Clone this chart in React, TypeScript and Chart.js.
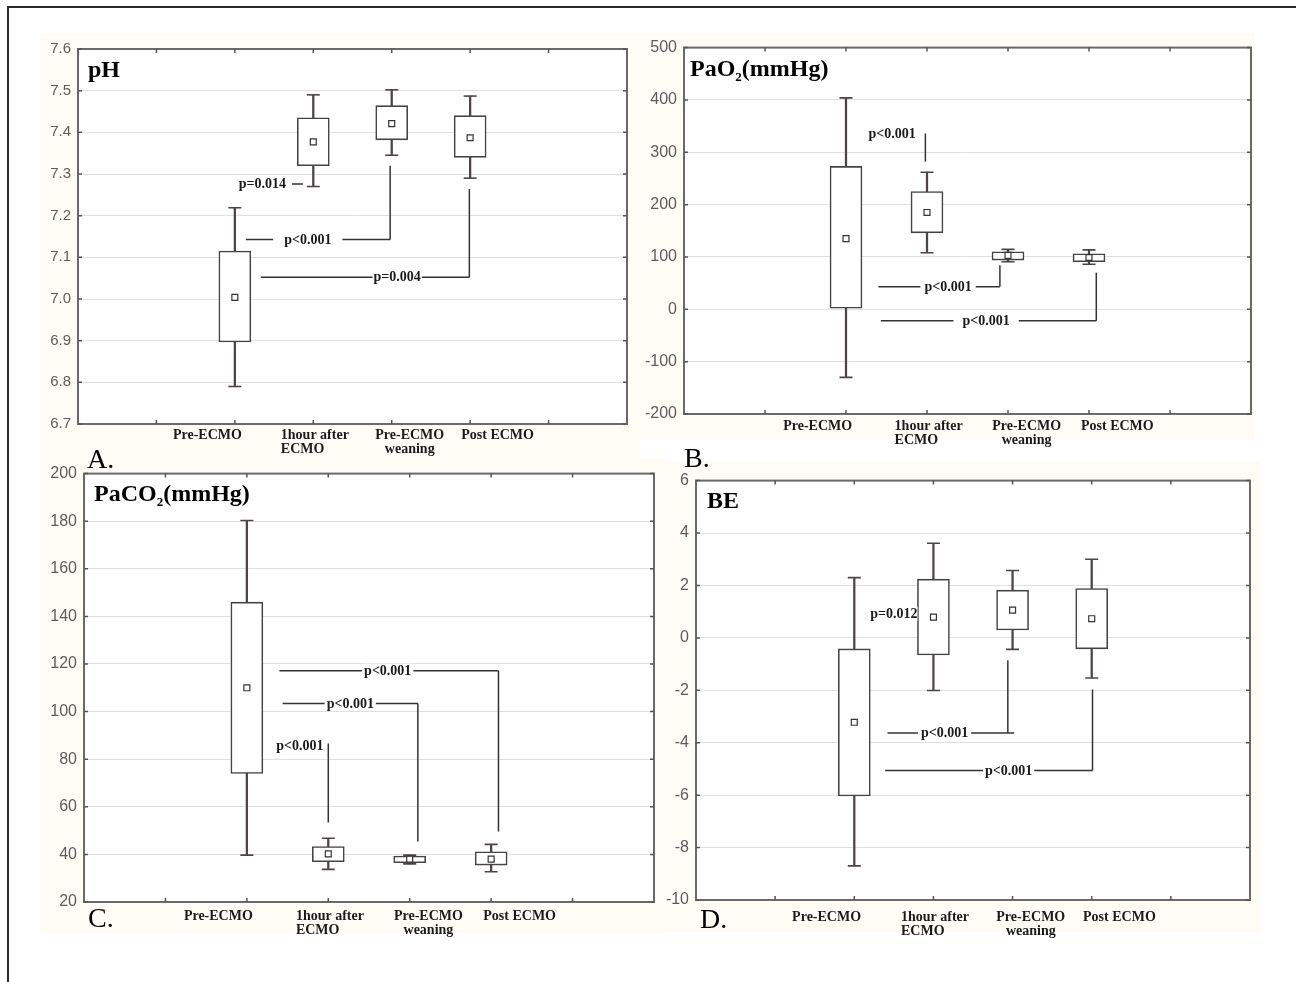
import React, { useEffect, useRef } from 'react';
import { Chart, registerables } from 'chart.js';

Chart.register(...registerables);

// ---------- shared categories ----------
const categories: string[][] = [['Pre-ECMO'], ['1hour after', 'ECMO'], ['Pre-ECMO', 'weaning'], ['Post ECMO']];
const labelAlign = ['center', 'left', 'center', 'center'];
const labelShift = [-0.35, 0.02, 0.23, 0.35];

// ---------- A. pH ----------
const phMin = [6.79, 7.27, 7.345, 7.29];
const phQ1 = [6.897, 7.32, 7.382, 7.34];
const phQ3 = [7.115, 7.435, 7.464, 7.44];
const phMax = [7.219, 7.49, 7.502, 7.487];
const phMean = [7.004, 7.377, 7.421, 7.387];
const phTicks = [6.7, 7.6, 0.1];
const phNotes = [
  { text: 'p=0.014', x: 2.35, y: 7.276, pad: 0, segs: [[2.73, 7.276, 2.87, 7.276]] },
  { text: 'p<0.001', x: 2.93, y: 7.143, pad: 11, segs: [[2.14, 7.143, 3.98, 7.143], [3.98, 7.143, 3.98, 7.32]] },
  { text: 'p=0.004', x: 4.07, y: 7.052, pad: 1, segs: [[2.33, 7.052, 4.99, 7.052], [4.99, 7.052, 4.99, 7.264]] },
];

// ---------- B. PaO2 ----------
const pao2Min = [-130, 108, 91, 86];
const pao2Q1 = [2, 146, 94, 91];
const pao2Q3 = [273, 225, 110, 106];
const pao2Max = [404, 262, 114.5, 113.5];
const pao2Mean = [135, 185, 103, 99];
const pao2Ticks = [-200, 500, 100];
const pao2Notes = [
  { text: 'p<0.001', x: 2.57, y: 336, pad: 0, segs: [[2.98, 336, 2.98, 282]] },
  { text: 'p<0.001', x: 3.26, y: 43, pad: 4, segs: [[2.4, 43, 3.9, 43], [3.9, 43, 3.9, 84]] },
  { text: 'p<0.001', x: 3.73, y: -22, pad: 9, segs: [[2.43, -22, 5.09, -22], [5.09, -22, 5.09, 70]] },
];

// ---------- C. PaCO2 ----------
const paco2Min = [39.7, 33.7, 36, 32.7];
const paco2Q1 = [74, 36.9, 36.5, 35.5];
const paco2Q3 = [146, 43.3, 39.3, 41.1];
const paco2Max = [180.3, 46.8, 39.7, 44.2];
const paco2Mean = [110, 40.2, 38, 38];
const paco2Ticks = [20, 200, 20];
const paco2Notes = [
  { text: 'p<0.001', x: 3.73, y: 117.2, pad: 2, segs: [[2.4, 117.2, 5.09, 117.2], [5.09, 117.2, 5.09, 49.6]] },
  { text: 'p<0.001', x: 3.27, y: 103.4, pad: 2, segs: [[2.44, 103.4, 4.1, 103.4], [4.1, 103.4, 4.1, 45.4]] },
  { text: 'p<0.001', x: 2.65, y: 85.5, pad: 0, segs: [[3.0, 86.6, 3.0, 53.4]] },
];

// ---------- D. BE ----------
const beMin = [-8.7, -2.01, -0.44, -1.53];
const beQ1 = [-6.03, -0.65, 0.3, -0.42];
const beQ3 = [-0.42, 2.24, 1.82, 1.88];
const beMax = [2.3, 3.61, 2.57, 3.0];
const beMean = [-3.22, 0.79, 1.06, 0.73];
const beTicks = [-10, 6, 2];
const beNotes = [
  { text: 'p=0.012', x: 2.5, y: 0.92, pad: 0, segs: [] as number[][] },
  { text: 'p<0.001', x: 3.14, y: -3.63, pad: 3, segs: [[2.42, -3.63, 4.02, -3.63], [3.94, -3.63, 3.94, -0.85]] },
  { text: 'p<0.001', x: 3.95, y: -5.06, pad: 2, segs: [[2.39, -5.06, 5.01, -5.06], [5.01, -5.06, 5.01, -1.97]] },
];

// ---------- panel layout / style ----------
type Part = { t: string; sub?: boolean };
const panels = [
  { key: 'A', min: phMin, q1: phQ1, q3: phQ3, max: phMax, mean: phMean, ticks: phTicks, dec: 1, notes: phNotes,
    title: [{ t: 'pH' }] as Part[], letter: 'A.', rect: [78, 45, 627, 424], tickFont: 15, labelDy: 11,
    letterDx: 9, letterDy: 44, titleDx: 10, titleDy: 28 },
  { key: 'B', min: pao2Min, q1: pao2Q1, q3: pao2Q3, max: pao2Max, mean: pao2Mean, ticks: pao2Ticks, dec: 0, notes: pao2Notes,
    title: [{ t: 'PaO' }, { t: '2', sub: true }, { t: '(mmHg)' }] as Part[], letter: 'B.', rect: [684, 43, 1251, 414], tickFont: 16, labelDy: 12,
    letterDx: 0, letterDy: 53, titleDx: 6, titleDy: 28 },
  { key: 'C', min: paco2Min, q1: paco2Q1, q3: paco2Q3, max: paco2Max, mean: paco2Mean, ticks: paco2Ticks, dec: 0, notes: paco2Notes,
    title: [{ t: 'PaCO' }, { t: '2', sub: true }, { t: '(mmHg)' }] as Part[], letter: 'C.', rect: [84, 469, 654, 902], tickFont: 16, labelDy: 14,
    letterDx: 4, letterDy: 25, titleDx: 10, titleDy: 27 },
  { key: 'D', min: beMin, q1: beQ1, q3: beQ3, max: beMax, mean: beMean, ticks: beTicks, dec: 0, notes: beNotes,
    title: [{ t: 'BE' }] as Part[], letter: 'D.', rect: [696, 476, 1250, 900], tickFont: 16, labelDy: 17,
    letterDx: 4, letterDy: 28, titleDx: 11, titleDy: 27 },
];

const AXIS_W = 40;
const PAD_T = 12;
const PAD_R = 12;
const XAXIS_H = 60;
const SERIF = '"Liberation Serif", "Times New Roman", serif';
const SANS = '"Liberation Sans", Arial, sans-serif';
const TXT = 'bold 14px ' + SERIF;

const pad = (a: any[]) => [null, null, ...a, null, null];

function buildConfig(p: typeof panels[number]): any {
  const labels = ['', '', ...categories.map((c) => c.join(' ')), '', ''];
  const decor = {
    id: 'decor' + p.key,
    beforeDraw(chart: any) {
      const ctx = chart.ctx;
      const a = chart.chartArea;
      ctx.save();
      ctx.fillStyle = '#ffffff';
      ctx.fillRect(a.left, a.top, a.right - a.left, a.bottom - a.top);
      ctx.restore();
    },
    afterDraw(chart: any) {
      const ctx = chart.ctx;
      const a = chart.chartArea;
      const xs = chart.scales.x;
      const ys = chart.scales.y;
      ctx.save();
      // annotations
      ctx.strokeStyle = '#333';
      ctx.lineWidth = 1.5;
      for (const n of p.notes) {
        for (const s of n.segs) {
          ctx.beginPath();
          ctx.moveTo(xs.getPixelForValue(s[0]), ys.getPixelForValue(s[1]));
          ctx.lineTo(xs.getPixelForValue(s[2]), ys.getPixelForValue(s[3]));
          ctx.stroke();
        }
      }
      ctx.font = TXT;
      ctx.textBaseline = 'middle';
      ctx.textAlign = 'center';
      for (const n of p.notes) {
        const tx = xs.getPixelForValue(n.x);
        const ty = ys.getPixelForValue(n.y);
        const w = ctx.measureText(n.text).width;
        ctx.fillStyle = '#ffffff';
        ctx.fillRect(tx - w / 2 - n.pad, ty - 7, w + 2 * n.pad, 14);
        ctx.fillStyle = '#1a1a1a';
        ctx.fillText(n.text, tx, ty + 0.5);
      }
      // frame
      ctx.strokeStyle = '#6a6a6a';
      ctx.lineWidth = 2;
      ctx.strokeRect(a.left, a.top, a.right - a.left, a.bottom - a.top);
      // tick marks
      ctx.lineWidth = 1.5;
      ctx.strokeStyle = '#555';
      for (let k = 1; k <= 6; k++) {
        const x = xs.getPixelForValue(k);
        ctx.beginPath();
        ctx.moveTo(x, a.top); ctx.lineTo(x, a.top + 4);
        ctx.moveTo(x, a.bottom); ctx.lineTo(x, a.bottom - 4);
        ctx.stroke();
      }
      for (const t of ys.ticks) {
        const y = ys.getPixelForValue(t.value);
        ctx.beginPath();
        ctx.moveTo(a.left, y); ctx.lineTo(a.left + 4, y);
        ctx.moveTo(a.right, y); ctx.lineTo(a.right - 4, y);
        ctx.stroke();
      }
      // title
      ctx.fillStyle = '#000';
      ctx.textAlign = 'left';
      ctx.textBaseline = 'alphabetic';
      let cx = a.left + p.titleDx;
      const cy = a.top + p.titleDy;
      for (const part of p.title) {
        ctx.font = part.sub ? 'bold 13px ' + SERIF : 'bold 24px ' + SERIF;
        ctx.fillText(part.t, cx, part.sub ? cy + 5 : cy);
        cx += ctx.measureText(part.t).width;
      }
      // category labels
      const spacing = xs.getPixelForValue(3) - xs.getPixelForValue(2);
      ctx.font = TXT;
      ctx.fillStyle = '#1a1a1a';
      ctx.textBaseline = 'middle';
      categories.forEach((lines, i) => {
        const lx = xs.getPixelForValue(i + 2) + labelShift[i] * spacing;
        const w0 = ctx.measureText(lines[0]).width;
        lines.forEach((ln, j) => {
          const ly = a.bottom + p.labelDy + j * 14;
          if (labelAlign[i] === 'left') {
            ctx.textAlign = 'left';
            ctx.fillText(ln, lx - w0 / 2, ly);
          } else {
            ctx.textAlign = 'center';
            ctx.fillText(ln, lx, ly);
          }
        });
      });
      // panel letter
      ctx.font = '28px ' + SERIF;
      ctx.fillStyle = '#000';
      ctx.textAlign = 'left';
      ctx.textBaseline = 'alphabetic';
      ctx.fillText(p.letter, a.left + p.letterDx, a.bottom + p.letterDy);
      ctx.restore();
    },
  };

  const whisker = '#4d4444';
  return {
    type: 'bar',
    data: {
      labels,
      datasets: [
        {
          type: 'bar', data: pad(p.min.map((m, i) => [m, p.max[i]])), barThickness: 1.6,
          backgroundColor: whisker, borderWidth: 0, grouped: false, order: 4,
        },
        {
          type: 'bar', data: pad(p.q1.map((m, i) => [m, p.q3[i]])), barThickness: 32,
          backgroundColor: '#ffffff', borderColor: '#444', borderWidth: 1.6, borderSkipped: false,
          grouped: false, order: 3,
        },
        {
          type: 'line', data: pad(p.max), showLine: false, pointStyle: 'line', pointRadius: 6.5,
          pointBorderWidth: 1.6, pointBorderColor: whisker, order: 2,
        },
        {
          type: 'line', data: pad(p.min), showLine: false, pointStyle: 'line', pointRadius: 6.5,
          pointBorderWidth: 1.6, pointBorderColor: whisker, order: 2,
        },
        {
          type: 'line', data: pad(p.mean), showLine: false, pointStyle: 'rect', pointRadius: 4.2,
          pointBackgroundColor: '#ffffff', pointBorderColor: '#333', pointBorderWidth: 1.2, order: 1,
        },
      ],
    },
    options: {
      animation: false,
      responsive: false,
      events: [],
      layout: { padding: { top: PAD_T, right: PAD_R, left: 0, bottom: 0 } },
      plugins: { legend: { display: false }, tooltip: { enabled: false }, title: { display: false } },
      scales: {
        x: {
          type: 'category',
          offset: false,
          grid: { display: false },
          border: { display: false },
          ticks: { display: false },
          afterFit: (s: any) => { s.height = XAXIS_H; },
        },
        y: {
          type: 'linear',
          min: p.ticks[0],
          max: p.ticks[1],
          beginAtZero: false,
          grid: { color: '#e0e0e0', lineWidth: 1, drawTicks: false },
          border: { display: false },
          ticks: {
            stepSize: p.ticks[2],
            padding: 7,
            color: '#5c5c5c',
            font: { family: SANS, size: p.tickFont },
            callback: (v: any) => Number(v).toFixed(p.dec),
          },
          afterFit: (s: any) => { s.width = AXIS_W; },
        },
      },
    },
    plugins: [decor],
  };
}

function Panel({ p }: { p: typeof panels[number] }) {
  const ref = useRef<HTMLCanvasElement>(null);
  const [L, T, R, B] = p.rect;
  const left = L - AXIS_W;
  const top = T - PAD_T;
  const width = R - L + AXIS_W + PAD_R;
  const height = B - T + PAD_T + XAXIS_H;
  useEffect(() => {
    const chart = new Chart(ref.current as HTMLCanvasElement, buildConfig(p));
    return () => chart.destroy();
  }, []);
  return (
    <canvas
      ref={ref}
      width={width}
      height={height}
      style={{ position: 'absolute', left, top, width, height }}
    />
  );
}

const beige = [
  [40, 33, 600, 425],
  [640, 33, 615, 407],
  [40, 458, 625, 475],
  [665, 462, 595, 470],
];

export default function App() {
  return (
    <div style={{ position: 'absolute', left: 0, top: 0, width: 1296, height: 982, background: '#fff', overflow: 'hidden' }}>
      <div style={{ position: 'absolute', left: 7, top: 6, width: 1300, height: 1000, borderTop: '2px solid #2a2a2a', borderLeft: '2px solid #2a2a2a' }} />
      {beige.map((b, i) => (
        <div key={i} style={{ position: 'absolute', left: b[0], top: b[1], width: b[2], height: b[3], background: '#fefcf5' }} />
      ))}
      {panels.map((p) => (
        <Panel key={p.key} p={p} />
      ))}
    </div>
  );
}
